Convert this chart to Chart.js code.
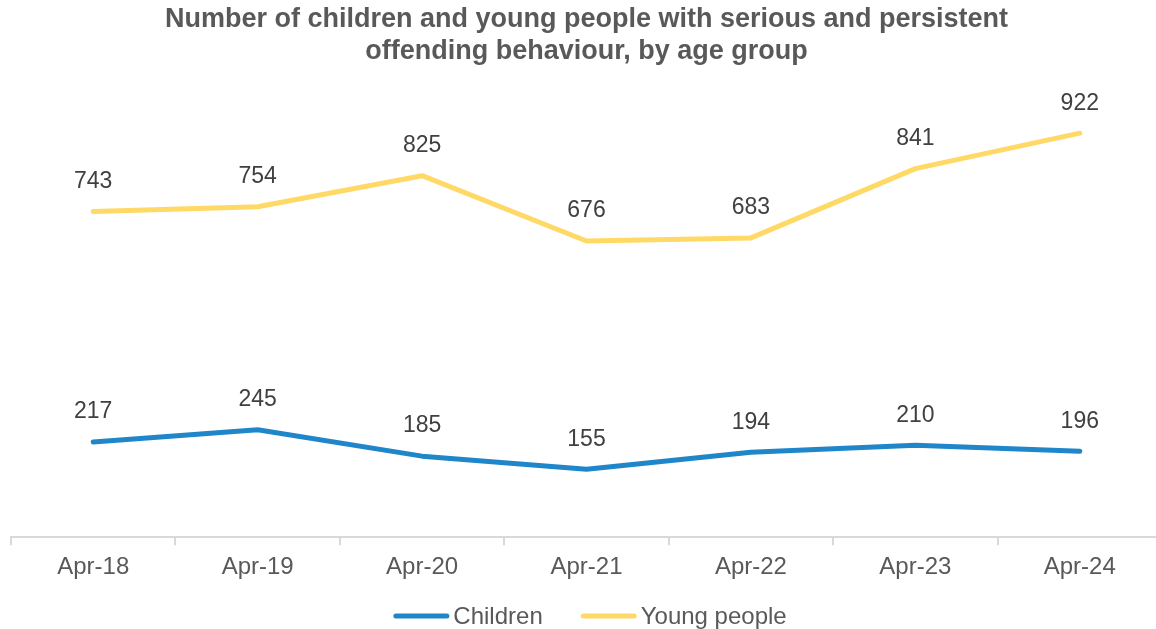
<!DOCTYPE html>
<html>
<head>
<meta charset="utf-8">
<script src="https://cdn.jsdelivr.net/npm/chart.js@4/dist/chart.umd.min.js"></script>
<style>
  html, body { margin: 0; padding: 0; background: #fff; overflow: hidden; }
  #wrap { position: relative; width: 1172px; height: 629px; }
</style>
</head>
<body>
<div id="wrap"><canvas id="c"></canvas></div>
<script>
const categories = ['Apr-18', 'Apr-19', 'Apr-20', 'Apr-21', 'Apr-22', 'Apr-23', 'Apr-24'];
const children = [217, 245, 185, 155, 194, 210, 196];
const youngPeople = [743, 754, 825, 676, 683, 841, 922];

const FONT = "'Liberation Sans', Arial, sans-serif";
const TEXT_GREY = '#595959';

// Writes each point's value just above it
const valueLabels = {
  id: 'valueLabels',
  afterDatasetsDraw(chart) {
    const ctx = chart.ctx;
    ctx.save();
    ctx.font = '23px ' + FONT;
    ctx.fillStyle = '#404040';
    ctx.textAlign = 'center';
    ctx.textBaseline = 'middle';
    chart.data.datasets.forEach((ds, i) => {
      chart.getDatasetMeta(i).data.forEach((pt, j) => {
        ctx.fillText(String(ds.data[j]), pt.x, pt.y - 30);
      });
    });
    ctx.restore();
  }
};

// Compact legend along the bottom: a line sample followed closely by the series name
const lineLegend = {
  id: 'lineLegend',
  afterDraw(chart) {
    const ctx = chart.ctx;
    const sample = 56, textGap = 4, itemGap = 38, y = 616;
    ctx.save();
    ctx.font = '24px ' + FONT;
    const items = chart.data.datasets.map(ds => ({
      ds, w: sample + textGap + ctx.measureText(ds.label).width
    }));
    const total = items.reduce((s, it) => s + it.w, 0) + itemGap * (items.length - 1);
    let x = chart.width / 2 - total / 2 + 4;
    items.forEach(it => {
      ctx.strokeStyle = it.ds.borderColor;
      ctx.lineWidth = 5;
      ctx.lineCap = 'round';
      ctx.beginPath();
      ctx.moveTo(x + 2.5, y);
      ctx.lineTo(x + sample - 2.5, y);
      ctx.stroke();
      ctx.fillStyle = TEXT_GREY;
      ctx.textAlign = 'left';
      ctx.textBaseline = 'middle';
      ctx.fillText(it.ds.label, x + sample + textGap, y + 1);
      x += it.w + itemGap;
    });
    ctx.restore();
  }
};

new Chart(document.getElementById('c'), {
  type: 'line',
  data: {
    labels: categories,
    datasets: [
      { label: 'Children', data: children, borderColor: '#1f87c9', backgroundColor: '#1f87c9',
        borderWidth: 5, pointRadius: 0, tension: 0, borderCapStyle: 'round', borderJoinStyle: 'round' },
      { label: 'Young people', data: youngPeople, borderColor: '#ffd966', backgroundColor: '#ffd966',
        borderWidth: 5, pointRadius: 0, tension: 0, borderCapStyle: 'round', borderJoinStyle: 'round' }
    ]
  },
  options: {
    responsive: true,
    maintainAspectRatio: false,
    animation: false,
    layout: { padding: { left: 11, right: 10, top: 4, bottom: 39 } },
    plugins: {
      title: {
        display: true,
        text: ['Number of children and young people with serious and persistent', 'offending behaviour, by age group'],
        color: TEXT_GREY,
        font: { family: FONT, size: 27, weight: 'bold', lineHeight: 32 / 27 },
        padding: { top: 0, bottom: 31 }
      },
      legend: { display: false },
      tooltip: { enabled: false }
    },
    scales: {
      x: {
        offset: true,
        grid: { offset: true, drawOnChartArea: false, drawTicks: true, tickLength: 8, color: '#d9d9d9', lineWidth: 2 },
        border: { display: true, color: '#d9d9d9', width: 2 },
        ticks: { color: TEXT_GREY, font: { family: FONT, size: 24 }, padding: 8, maxRotation: 0 }
      },
      y: { display: false, min: 0, max: 1000 }
    }
  },
  plugins: [valueLabels, lineLegend]
});
</script>
</body>
</html>
